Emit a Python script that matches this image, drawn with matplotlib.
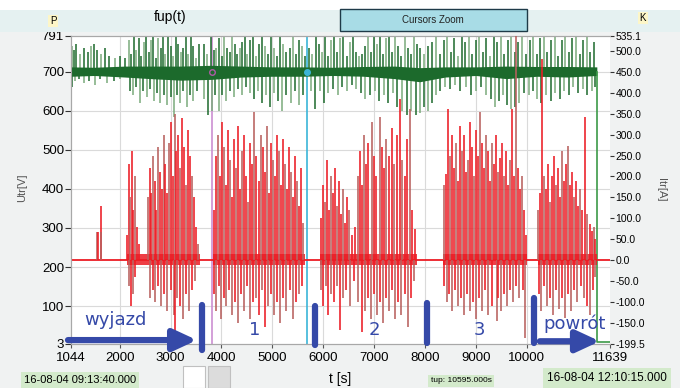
import matplotlib
matplotlib.use('Agg')
import matplotlib.pyplot as plt
from matplotlib.patches import Rectangle

# ---- axes ranges / ticks ----
t_min, t_max = 1044, 11639
u_min, u_max = 3, 791
i_min, i_max = -199.5, 535.1
x_ticks = [1044, 2000, 3000, 4000, 5000, 6000, 7000, 8000, 9000, 10000, 11639]
u_ticks = [3, 100, 200, 300, 400, 500, 600, 700, 791]
i_ticks = [535.1, 500, 450, 400, 350, 300, 250, 200, 150, 100, 50, 0, -50, -100, -150, -199.5]
i_labels = ['535.1', '500.0', '450.0', '400.0', '350.0', '300.0', '250.0', '200.0', '150.0',
            '100.0', '50.0', '0.0', '-50.0', '-100.0', '-150.0', '-199.5']

t_end = 11380          # end of recorded data
cursor_a, cursor_b = 3808, 5674

# ---- voltage Utr [V]  (green) ----
band_t = [1044, 1500, 2100, 2600, 3200, 3800, 4400, 5000, 5600, 6200, 6800, 7400, 7900, 8400, 9000, 9600, 10200, 10800, 11380]
band_lo = [688, 690, 686, 682, 678, 680, 686, 688, 688, 690, 688, 682, 674, 686, 690, 682, 688, 686, 690]
band_hi = [712, 711, 714, 714, 714, 716, 714, 712, 712, 711, 713, 714, 710, 712, 712, 714, 713, 713, 712]

u_up = [(1060, 765), (1100, 755), (1150, 770), (1230, 745), (1300, 760), (1380, 750), (1440, 765), (1500, 770),
        (1560, 755), (1640, 745), (1720, 760), (1800, 740), (1900, 735), (2000, 740), (2100, 735),
        (2180, 780), (2230, 745), (2280, 790), (2330, 755), (2380, 785), (2420, 740), (2470, 775), (2520, 790),
        (2570, 750), (2620, 780), (2660, 790), (2710, 735), (2760, 785), (2810, 760), (2860, 790), (2900, 745),
        (2950, 790), (3000, 765), (3050, 740), (3100, 790), (3150, 770), (3200, 750), (3250, 760), (3300, 790),
        (3350, 745), (3400, 790), (3450, 765), (3500, 735), (3560, 770),
        (3650, 770), (3720, 745), (3800, 790), (3850, 755), (3900, 760), (3960, 785), (4010, 740), (4060, 790),
        (4110, 760), (4160, 750), (4210, 790), (4260, 770), (4310, 745), (4360, 760), (4410, 775), (4460, 790),
        (4510, 745), (4560, 780), (4620, 790), (4680, 740), (4740, 770), (4800, 790), (4860, 765), (4920, 745),
        (4980, 790), (5040, 760), (5100, 740), (5160, 790), (5220, 770), (5280, 750), (5340, 760), (5400, 790),
        (5460, 745), (5520, 780), (5580, 765), (5640, 740),
        (5720, 760), (5790, 745), (5860, 790), (5920, 770), (5980, 750), (6040, 790), (6100, 740), (6160, 780),
        (6220, 790), (6280, 750), (6340, 785), (6400, 790), (6460, 740), (6520, 775), (6580, 790), (6640, 750),
        (6700, 740), (6760, 745), (6820, 765), (6880, 790), (6940, 750), (7000, 790), (7060, 770), (7120, 790),
        (7180, 745), (7240, 785), (7300, 790), (7360, 750), (7420, 790), (7480, 765), (7540, 740), (7600, 790),
        (7660, 760), (7720, 745), (7780, 790), (7840, 770),
        (7900, 760), (7980, 745), (8060, 765), (8140, 775), (8220, 790), (8300, 745), (8370, 780), (8440, 790),
        (8510, 750), (8580, 785), (8650, 740), (8720, 790), (8790, 775), (8860, 790), (8930, 745), (9000, 780),
        (9070, 790), (9140, 750), (9210, 785), (9280, 740), (9350, 790), (9420, 775), (9490, 790), (9560, 745),
        (9630, 780), (9700, 790), (9770, 750), (9840, 775), (9910, 790), (9980, 745),
        (10060, 780), (10130, 790), (10200, 745), (10270, 785), (10340, 790), (10410, 750), (10480, 780),
        (10550, 790), (10620, 740), (10690, 780), (10760, 790), (10830, 750), (10900, 785), (10970, 790),
        (11040, 745), (11110, 780), (11180, 790), (11250, 750), (11320, 775)]

u_dn = [(1070, 660), (1130, 675), (1200, 680), (1290, 670), (1400, 675), (1520, 665), (1620, 680), (1750, 670),
        (1880, 675), (2000, 680),
        (2200, 650), (2260, 640), (2330, 660), (2400, 620), (2460, 650), (2540, 635), (2600, 655), (2680, 625),
        (2740, 645), (2800, 620), (2870, 640), (2940, 615), (3000, 635), (3060, 585), (3130, 640), (3190, 620),
        (3250, 650), (3320, 610), (3390, 640), (3450, 625), (3520, 650),
        (3660, 630), (3740, 590), (3820, 600), (3880, 640), (3950, 600), (4020, 640), (4090, 625), (4160, 650),
        (4240, 635), (4320, 655), (4400, 640), (4480, 660), (4560, 645), (4640, 630), (4720, 650), (4800, 620),
        (4880, 640), (4960, 610), (5040, 645), (5120, 625), (5200, 600), (5280, 640), (5360, 620), (5440, 650),
        (5520, 615), (5600, 640),
        (5760, 650), (5850, 605), (5930, 650), (6020, 620), (6100, 645), (6200, 655), (6290, 640), (6380, 660),
        (6470, 650), (6560, 665), (6650, 655), (6740, 645), (6830, 630), (6920, 640), (7010, 650), (7100, 625),
        (7190, 640), (7280, 620), (7370, 645), (7460, 610), (7550, 600), (7640, 590), (7730, 600), (7820, 588),
        (7900, 595), (7980, 610), (8060, 600), (8140, 620), (8220, 640), (8300, 650), (8400, 660), (8500, 655),
        (8600, 665), (8700, 650), (8800, 660), (8900, 640), (9000, 650), (9100, 660), (9200, 640), (9300, 630),
        (9380, 610), (9460, 625), (9540, 640), (9620, 615), (9700, 605), (9780, 610), (9860, 620), (9940, 645),
        (10040, 640), (10120, 650), (10200, 630), (10290, 620), (10380, 640), (10470, 625), (10560, 645),
        (10650, 630), (10740, 650), (10830, 640), (10920, 660), (11010, 645), (11100, 655), (11190, 640),
        (11280, 650), (11350, 660)]

# ---- current Itr [A]  (red) ----
bursts = [(2144, 3579), (3834, 5642), (5937, 7843), (8354, 10004), (10220, 11380)]

i_up = [(1550, 68), (1580, 68), (1625, 130), (1640, 68),
        (2150, 60), (2180, 230), (2210, 150), (2240, 260), (2270, 120), (2300, 200), (2340, 80), (2380, 40),
        (2560, 150), (2590, 220), (2620, 160), (2650, 250), (2690, 190), (2720, 120), (2760, 270), (2800, 210),
        (2840, 170), (2870, 300), (2900, 230), (2940, 160), (2980, 280), (3010, 330), (3040, 200), (3080, 350),
        (3110, 260), (3150, 300), (3180, 220), (3220, 340), (3260, 270), (3300, 180), (3340, 310), (3380, 250),
        (3420, 200), (3460, 150), (3500, 80), (3540, 40),
        (3850, 120), (3890, 250), (3930, 300), (3970, 200), (4010, 330), (4050, 270), (4090, 180), (4130, 310),
        (4170, 240), (4210, 150), (4250, 290), (4290, 220), (4330, 320), (4370, 170), (4410, 260), (4450, 300),
        (4490, 200), (4530, 140), (4570, 280), (4610, 230), (4650, 355), (4690, 250), (4730, 190), (4770, 300),
        (4810, 270), (4850, 210), (4890, 320), (4930, 160), (4970, 280), (5010, 240), (5050, 200), (5090, 300),
        (5130, 260), (5170, 180), (5210, 290), (5250, 230), (5290, 170), (5330, 270), (5370, 210), (5410, 150),
        (5450, 250), (5490, 190), (5530, 130), (5570, 220), (5610, 90),
        (5950, 100), (5990, 180), (6030, 140), (6070, 240), (6110, 120), (6150, 200), (6190, 160), (6230, 220),
        (6270, 130), (6310, 190), (6350, 110), (6390, 170), (6430, 90), (6470, 150), (6510, 120), (6560, 60),
        (6620, 80), (6680, 200), (6720, 260), (6760, 180), (6800, 300), (6840, 230), (6880, 280), (6960, 331),
        (7000, 250), (7040, 200), (7110, 343), (7160, 270), (7200, 220), (7240, 290), (7300, 250), (7350, 315),
        (7400, 230), (7450, 300), (7510, 386), (7560, 240), (7600, 200), (7640, 290), (7700, 362), (7740, 120),
        (7804, 74),
        (8370, 180), (8410, 205), (8450, 362), (8490, 250), (8530, 300), (8570, 220), (8610, 280), (8650, 190),
        (8690, 320), (8730, 260), (8770, 300), (8810, 210), (8845, 240), (8890, 330), (8930, 270), (8970, 200),
        (9010, 310), (9050, 250), (9080, 355), (9120, 280), (9160, 220), (9200, 300), (9240, 260), (9280, 190),
        (9320, 280), (9360, 230), (9400, 300), (9440, 210), (9475, 243), (9520, 280), (9560, 200), (9600, 260),
        (9640, 180), (9680, 240), (9710, 362), (9750, 200), (9790, 540), (9830, 220), (9870, 170), (9910, 200),
        (9950, 120), (9990, 60),
        (10230, 120), (10270, 160), (10300, 480), (10340, 200), (10380, 170), (10420, 230), (10460, 140),
        (10500, 200), (10540, 250), (10580, 180), (10620, 220), (10660, 150), (10700, 260), (10740, 190),
        (10780, 230), (10810, 272), (10850, 180), (10890, 210), (10930, 150), (10970, 190), (11010, 130),
        (11050, 170), (11090, 120), (11145, 343), (11190, 110), (11240, 86), (11280, 70), (11320, 80), (11350, 50)]

i_dn = [(2180, -60), (2220, -110), (2260, -80), (2300, -40), (2600, -90), (2660, -70), (2700, -100), (2760, -60),
        (2820, -110), (2880, -80), (2940, -120), (3000, -70), (3060, -130), (3088, -188), (3120, -90),
        (3180, -110), (3240, -140), (3300, -80), (3360, -120), (3420, -70), (3480, -50),
        (3860, -80), (3900, -120), (3950, -60), (4000, -140), (4050, -90), (4100, -110), (4150, -70), (4200, -130),
        (4260, -100), (4320, -150), (4380, -80), (4440, -120), (4500, -60), (4560, -140), (4620, -100),
        (4680, -90), (4740, -130), (4800, -70), (4860, -160), (4920, -110), (4980, -80), (5040, -130),
        (5100, -100), (5160, -150), (5220, -90), (5280, -120), (5340, -70), (5400, -140), (5460, -100),
        (5520, -80), (5580, -60),
        (5960, -70), (6000, -110), (6050, -60), (6100, -130), (6160, -80), (6220, -100), (6280, -60), (6330, -165),
        (6390, -90), (6450, -70), (6520, -110), (6600, -50), (6680, -100), (6760, -170), (6820, -120),
        (6880, -90), (6940, -140), (7000, -80), (7060, -130), (7120, -100), (7180, -150), (7240, -90),
        (7300, -120), (7360, -70), (7420, -140), (7480, -100), (7540, -130), (7600, -80), (7666, -158),
        (7720, -90), (7780, -50),
        (8380, -60), (8430, -100), (8480, -80), (8530, -120), (8590, -70), (8650, -110), (8710, -90), (8770, -130),
        (8830, -80), (8890, -120), (8950, -100), (9010, -140), (9070, -90), (9130, -120), (9190, -70),
        (9250, -130), (9310, -110), (9415, -145), (9430, -90), (9490, -120), (9550, -80), (9610, -110),
        (9670, -70), (9730, -100), (9800, -60), (9860, -90), (9920, -70), (9965, -186),
        (10240, -80), (10290, -120), (10340, -60), (10400, -110), (10460, -90), (10520, -130), (10580, -70),
        (10640, -115), (10700, -90), (10760, -138), (10820, -80), (10880, -120), (10940, -70), (11000, -100),
        (11060, -60), (11120, -90), (11180, -110), (11250, -130), (11310, -70), (11350, -40)]

# ---- annotation positions (t [s], Utr [V]) ----
bar_t = [3618, 5839, 8040, 10142]
bar_lo = [-13, 0, 5, 5]
bar_hi = [102, 100, 108, 120]
seg_labels = ['1', '2', '3']
seg_label_t = [4660, 7000, 9080]

W, H = 680, 388
BLUE = '#3549a8'
G_DARK, G_LIGHT = '#1c6a2c', '#7aab7c'
R_BRIGHT, R_DARK = '#ec1c24', '#b8605e'

fig = plt.figure(figsize=(W / 100, H / 100), dpi=100)
fig.patch.set_facecolor('#f0f2f2')
fig.patches.append(Rectangle((0, 1 - 10 / H), 1, 10 / H, transform=fig.transFigure,
                             facecolor='white', edgecolor='none', zorder=0))
fig.patches.append(Rectangle((0, 1 - 32 / H), 1, 22 / H, transform=fig.transFigure,
                             facecolor='#e5f1f1', edgecolor='none', zorder=0))

ax1 = fig.add_axes([71 / W, 1 - 344 / H, 539 / W, 308 / H])
ax1.set_facecolor('white')
ax1.set_xlim(t_min, t_max)
ax1.set_ylim(u_min, u_max)
ax2 = ax1.twinx()
ax2.set_ylim(i_min, i_max)
ax2.patch.set_visible(False)

# grid
for x in x_ticks[1:-1]:
    ax1.axvline(x, color='#dadada', lw=0.8, zorder=0)
for y in u_ticks[1:-1]:
    ax1.axhline(y, color='#dadada', lw=0.8, zorder=0)

# cursors
ax1.axvline(cursor_a, color='#cc8fd2', lw=1.2, zorder=1)
ax1.axvline(cursor_b, color='#3bb5d8', lw=1.2, zorder=1)

# green voltage
ut, uv = zip(*u_up)
dt, dv = zip(*u_dn)
ax1.vlines(ut, 700, uv, colors=[G_DARK if k % 3 else G_LIGHT for k in range(len(ut))], lw=1.1, zorder=2)
ax1.vlines(dt, 700, dv, colors=[G_LIGHT if k % 2 else G_DARK for k in range(len(dt))], lw=1.1, zorder=2)
ax1.fill_between(band_t, band_lo, band_hi, color=G_DARK, lw=0, zorder=3)
ax1.plot([t_end, t_end, t_max], [700, 8, 8], color='#3c9a48', lw=1.2, zorder=3)
ax1.plot(cursor_a, 700, 'o', mfc='none', mec='#b05aa8', ms=4, zorder=4)
ax1.plot(cursor_b, 700, 'o', color='#3bb5d8', ms=4, zorder=4)

# red current
ax2.axhline(0, color=R_BRIGHT, lw=1.3, zorder=2)
for b0, b1 in bursts:
    ax2.fill_between([b0, b1], -10, 14, color=R_BRIGHT, lw=0, alpha=0.85, zorder=2)
it, ia = zip(*i_up)
nt, na = zip(*i_dn)
ax2.vlines(it, 0, ia, colors=[R_BRIGHT if k % 3 else R_DARK for k in range(len(it))], lw=1.15, zorder=3)
ax2.vlines(nt, 0, na, colors=[R_BRIGHT if k % 2 else R_DARK for k in range(len(nt))], lw=1.15, zorder=3)

# ticks and spines
ax1.set_xticks(x_ticks)
ax1.set_xticklabels([str(v) for v in x_ticks], family='Liberation Sans', fontsize=9.5)
ax1.set_yticks(u_ticks)
ax1.set_yticklabels([str(v) for v in u_ticks], family='Liberation Sans', fontsize=9.5)
ax2.set_yticks(i_ticks)
ax2.set_yticklabels(i_labels, family='Liberation Sans', fontsize=7.5)
ax1.tick_params(axis='x', length=3, pad=3, color='#555555')
ax1.tick_params(axis='y', length=4, pad=1, color='#333333')
ax2.tick_params(axis='y', length=3, pad=1, color='#333333')
for a in (ax1, ax2):
    for s in a.spines.values():
        s.set_color('#a8a8a8')
        s.set_linewidth(0.8)
    a.spines['right'].set_visible(False)

# annotations (in Utr / t coordinates, drawn on top)
tr = ax1.transData
for t, lo, hi in zip(bar_t, bar_lo, bar_hi):
    ax2.plot([t, t], [lo, hi], transform=tr, color=BLUE, lw=4.5,
             solid_capstyle='round', clip_on=False, zorder=10)
ax2.annotate('', xy=(3520, 13), xytext=(985, 13), xycoords=tr, textcoords=tr,
             arrowprops=dict(arrowstyle='-|>,head_length=1.4,head_width=0.65', lw=4.5,
                             color=BLUE, shrinkA=0, shrinkB=0), annotation_clip=False, zorder=10)
ax2.annotate('', xy=(11440, 10), xytext=(10260, 10), xycoords=tr, textcoords=tr,
             arrowprops=dict(arrowstyle='-|>,head_length=1.4,head_width=0.65', lw=4.5,
                             color=BLUE, shrinkA=0, shrinkB=0), annotation_clip=False, zorder=10)
ax2.text(1909, 64, 'wyjazd', transform=tr, color=BLUE, fontsize=13, ha='center', va='center', zorder=10)
ax2.text(10950, 56, 'powrót', transform=tr, color=BLUE, fontsize=13, ha='center', va='center', zorder=10)
for lab, t in zip(seg_labels, seg_label_t):
    ax2.text(t, 38, lab, transform=tr, color=BLUE, fontsize=13, ha='center', va='center', zorder=10)

# axis titles and frame texts
fig.text(22 / W, 1 - 188 / H, 'Utr[V]', rotation=90, fontsize=8, color='#555555',
         ha='center', va='center', family='Liberation Sans')
fig.text(661 / W, 1 - 190 / H, 'Itr[A]', rotation=-90, fontsize=8, color='#555555',
         ha='center', va='center', family='Liberation Sans')
fig.text(340 / W, 1 - 379 / H, 't [s]', fontsize=10, ha='center', va='center', family='Liberation Sans')
fig.text(170 / W, 1 - 17 / H, 'fup(t)', fontsize=10, ha='center', va='center', family='Liberation Sans')
fig.text(53 / W, 1 - 21 / H, 'P', fontsize=7, ha='center', va='center', family='Liberation Sans',
         bbox=dict(boxstyle='square,pad=0.15', fc='#fdf6c8', ec='none'))
fig.text(643 / W, 1 - 18 / H, 'K', fontsize=7, ha='center', va='center', family='Liberation Sans',
         bbox=dict(boxstyle='square,pad=0.15', fc='#fdf6c8', ec='none'))
fig.patches.append(Rectangle((340 / W, 1 - 31 / H), 187 / W, 22 / H, transform=fig.transFigure,
                             facecolor='#a8dce6', edgecolor='#1e3a48', lw=1.0, zorder=1))
fig.text(433 / W, 1 - 20 / H, 'Cursors Zoom', fontsize=7, ha='center', va='center',
         family='Liberation Sans', color='#222222')

fig.text(80 / W, 1 - 380 / H, '16-08-04 09:13:40.000', fontsize=8, ha='center', va='center',
         family='Liberation Sans', bbox=dict(boxstyle='square,pad=0.3', fc='#d3eacb', ec='none'))
fig.text(461 / W, 1 - 381 / H, 'tup: 10595.000s', fontsize=6, ha='center', va='center',
         family='Liberation Sans', bbox=dict(boxstyle='square,pad=0.25', fc='#d3eacb', ec='none'))
fig.text(607 / W, 1 - 378 / H, '16-08-04 12:10:15.000', fontsize=8.5, ha='center', va='center',
         family='Liberation Sans', bbox=dict(boxstyle='square,pad=0.35', fc='#d3eacb', ec='none'))
fig.patches.append(Rectangle((183 / W, 1 - 388 / H), 22 / W, 22 / H, transform=fig.transFigure,
                             facecolor='white', edgecolor='#c0c0c0', lw=0.8))
fig.patches.append(Rectangle((208 / W, 1 - 388 / H), 22 / W, 22 / H, transform=fig.transFigure,
                             facecolor='#dcdcdc', edgecolor='#c0c0c0', lw=0.8))

fig.savefig('out.png', dpi=100, facecolor=fig.get_facecolor())
